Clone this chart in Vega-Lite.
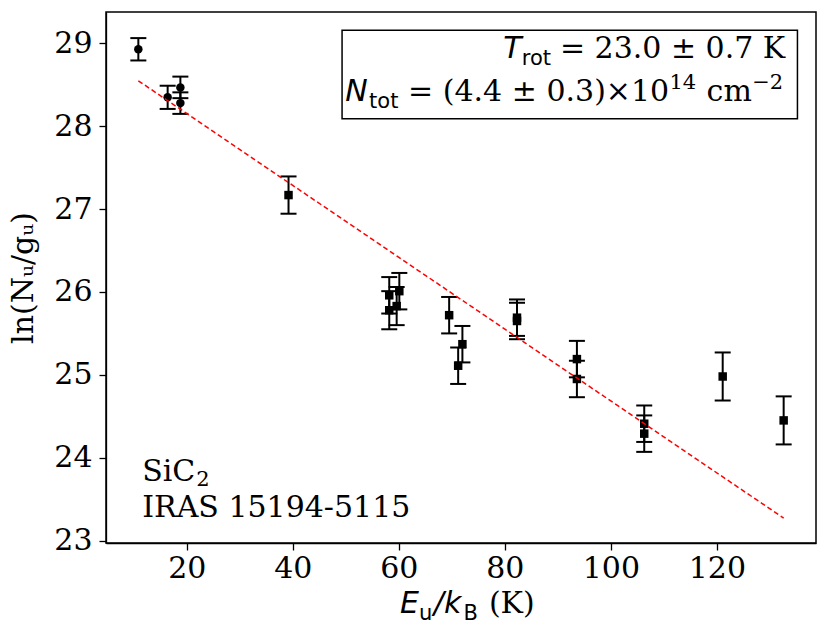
{
  "$schema": "https://vega.github.io/schema/vega-lite/v6.json",
  "width": 710,
  "height": 531,
  "autosize": "none",
  "padding": {"left": 106, "top": 12, "right": 14, "bottom": 95},
  "background": "white",
  "config": {
    "view": {"stroke": "black", "strokeWidth": 1.5},
    "axis": {
      "grid": false,
      "labelFont": "DejaVu Serif",
      "labelFontSize": 30,
      "labelColor": "black",
      "tickColor": "black",
      "domainColor": "black",
      "tickSize": 7,
      "tickWidth": 1.3,
      "domainWidth": 1.3,
      "titleFont": "DejaVu Serif",
      "titleFontSize": 30,
      "titleFontWeight": "normal",
      "titleColor": "black"
    },
    "text": {"color": "black", "baseline": "alphabetic", "align": "left"}
  },
  "datasets": {
    "points": [
      {"E": 10.87, "lnN": 28.93, "err": 0.135, "marker": "circle"},
      {"E": 16.4, "lnN": 28.35, "err": 0.14, "marker": "circle"},
      {"E": 18.8, "lnN": 28.47, "err": 0.13, "marker": "circle"},
      {"E": 18.8, "lnN": 28.28, "err": 0.13, "marker": "circle"},
      {"E": 39.2, "lnN": 27.17, "err": 0.225, "marker": "square"},
      {"E": 58.2, "lnN": 25.96, "err": 0.22, "marker": "square"},
      {"E": 58.2, "lnN": 25.78, "err": 0.23, "marker": "square"},
      {"E": 60.1, "lnN": 26.01, "err": 0.22, "marker": "square"},
      {"E": 59.6, "lnN": 25.83, "err": 0.23, "marker": "square"},
      {"E": 69.5, "lnN": 25.72, "err": 0.22, "marker": "square"},
      {"E": 72.0, "lnN": 25.37, "err": 0.22, "marker": "square"},
      {"E": 71.2, "lnN": 25.11, "err": 0.22, "marker": "square"},
      {"E": 82.3, "lnN": 25.69, "err": 0.22, "marker": "square"},
      {"E": 82.3, "lnN": 25.65, "err": 0.22, "marker": "square"},
      {"E": 93.6, "lnN": 25.19, "err": 0.22, "marker": "square"},
      {"E": 93.6, "lnN": 24.95, "err": 0.22, "marker": "square"},
      {"E": 106.3, "lnN": 24.41, "err": 0.22, "marker": "square"},
      {"E": 106.3, "lnN": 24.29, "err": 0.22, "marker": "square"},
      {"E": 121.1, "lnN": 24.98, "err": 0.29, "marker": "square"},
      {"E": 132.6, "lnN": 24.45, "err": 0.29, "marker": "square"}
    ],
    "fit": [
      {"E": 10.87, "lnN": 28.55},
      {"E": 132.6, "lnN": 23.27}
    ],
    "one": [{}]
  },
  "layer": [
    {
      "data": {"name": "points"},
      "mark": {
        "type": "errorbar",
        "ticks": {"size": 16, "thickness": 2, "color": "black", "opacity": 1},
        "rule": {"strokeWidth": 2, "color": "black", "opacity": 1},
        "color": "black"
      },
      "encoding": {
        "x": {
          "field": "E", "type": "quantitative",
          "scale": {"domain": [4.77, 138.7], "nice": false, "zero": false},
          "axis": {"values": [20, 40, 60, 80, 100, 120], "title": null, "format": "d", "labelPadding": 3}
        },
        "y": {
          "field": "lnN", "type": "quantitative",
          "scale": {"domain": [22.97, 29.38], "nice": false, "zero": false},
          "axis": {"values": [23, 24, 25, 26, 27, 28, 29], "format": "d", "title": "ln(Nᵤ/gᵤ)", "titlePadding": 15, "labelPadding": 7}
        },
        "yError": {"field": "err"}
      }
    },
    {
      "data": {"name": "points"},
      "mark": {"type": "point", "filled": true, "opacity": 1, "color": "black", "size": 72},
      "encoding": {
        "x": {"field": "E", "type": "quantitative"},
        "y": {"field": "lnN", "type": "quantitative"},
        "shape": {
          "field": "marker", "type": "nominal",
          "scale": {"domain": ["circle", "square"], "range": ["circle", "square"]},
          "legend": null
        }
      }
    },
    {
      "data": {"name": "fit"},
      "mark": {"type": "line", "color": "#ff0000", "strokeDash": [5, 3], "strokeWidth": 1.5},
      "encoding": {
        "x": {"field": "E", "type": "quantitative"},
        "y": {"field": "lnN", "type": "quantitative"}
      }
    },
    {
      "data": {"name": "one"},
      "mark": {"type": "rect", "fill": "white", "stroke": "black", "strokeWidth": 1.5},
      "encoding": {
        "x": {"datum": 49.3}, "x2": {"datum": 135.2},
        "y": {"datum": 29.16}, "y2": {"datum": 28.09}
      }
    },
    {
      "data": {"name": "one"},
      "mark": {"type": "text", "text": "T", "font": "DejaVu Sans", "fontStyle": "italic", "fontSize": 30},
      "encoding": {"x": {"datum": 79.7}, "y": {"datum": 28.83}}
    },
    {
      "data": {"name": "one"},
      "mark": {"type": "text", "text": "rot", "font": "DejaVu Sans", "fontSize": 21, "dy": 7},
      "encoding": {"x": {"datum": 83.2}, "y": {"datum": 28.83}}
    },
    {
      "data": {"name": "one"},
      "mark": {"type": "text", "text": "= 23.0 ± 0.7 K", "font": "DejaVu Serif", "fontSize": 30, "align": "right"},
      "encoding": {"x": {"datum": 132.9}, "y": {"datum": 28.83}}
    },
    {
      "data": {"name": "one"},
      "mark": {"type": "text", "text": "N", "font": "DejaVu Sans", "fontStyle": "italic", "fontSize": 30},
      "encoding": {"x": {"datum": 49.9}, "y": {"datum": 28.3}}
    },
    {
      "data": {"name": "one"},
      "mark": {"type": "text", "text": "tot", "font": "DejaVu Sans", "fontSize": 21, "dy": 7},
      "encoding": {"x": {"datum": 54.4}, "y": {"datum": 28.3}}
    },
    {
      "data": {"name": "one"},
      "mark": {"type": "text", "text": "= (4.4 ± 0.3)×10", "font": "DejaVu Serif", "fontSize": 30, "align": "right"},
      "encoding": {"x": {"datum": 111.0}, "y": {"datum": 28.3}}
    },
    {
      "data": {"name": "one"},
      "mark": {"type": "text", "text": "14", "font": "DejaVu Serif", "fontSize": 21, "align": "right", "dy": -12},
      "encoding": {"x": {"datum": 116.1}, "y": {"datum": 28.3}}
    },
    {
      "data": {"name": "one"},
      "mark": {"type": "text", "text": "cm", "font": "DejaVu Serif", "fontSize": 30, "align": "right"},
      "encoding": {"x": {"datum": 126.6}, "y": {"datum": 28.3}}
    },
    {
      "data": {"name": "one"},
      "mark": {"type": "text", "text": "−2", "font": "DejaVu Serif", "fontSize": 21, "align": "right", "dy": -12},
      "encoding": {"x": {"datum": 132.5}, "y": {"datum": 28.3}}
    },
    {
      "data": {"name": "one"},
      "mark": {"type": "text", "text": "SiC", "font": "DejaVu Serif", "fontSize": 30},
      "encoding": {"x": {"datum": 11.6}, "y": {"datum": 23.72}}
    },
    {
      "data": {"name": "one"},
      "mark": {"type": "text", "text": "2", "font": "DejaVu Serif", "fontSize": 21, "dy": 5},
      "encoding": {"x": {"datum": 21.8}, "y": {"datum": 23.72}}
    },
    {
      "data": {"name": "one"},
      "mark": {"type": "text", "text": "IRAS 15194-5115", "font": "DejaVu Serif", "fontSize": 30},
      "encoding": {"x": {"datum": 11.6}, "y": {"datum": 23.28}}
    },
    {
      "data": {"name": "one"},
      "mark": {"type": "text", "text": "E", "font": "DejaVu Sans", "fontStyle": "italic", "fontSize": 30, "dy": 70},
      "encoding": {"x": {"datum": 60.25}, "y": {"datum": 22.97}}
    },
    {
      "data": {"name": "one"},
      "mark": {"type": "text", "text": "u", "font": "DejaVu Sans", "fontSize": 21, "dy": 77},
      "encoding": {"x": {"datum": 63.8}, "y": {"datum": 22.97}}
    },
    {
      "data": {"name": "one"},
      "mark": {"type": "text", "text": "/k", "font": "DejaVu Sans", "fontStyle": "italic", "fontSize": 30, "dy": 70},
      "encoding": {"x": {"datum": 66.6}, "y": {"datum": 22.97}}
    },
    {
      "data": {"name": "one"},
      "mark": {"type": "text", "text": "B", "font": "DejaVu Sans", "fontSize": 21, "dy": 77},
      "encoding": {"x": {"datum": 72.2}, "y": {"datum": 22.97}}
    },
    {
      "data": {"name": "one"},
      "mark": {"type": "text", "text": "(K)", "font": "DejaVu Serif", "fontSize": 30, "dy": 70},
      "encoding": {"x": {"datum": 77.0}, "y": {"datum": 22.97}}
    }
  ]
}
